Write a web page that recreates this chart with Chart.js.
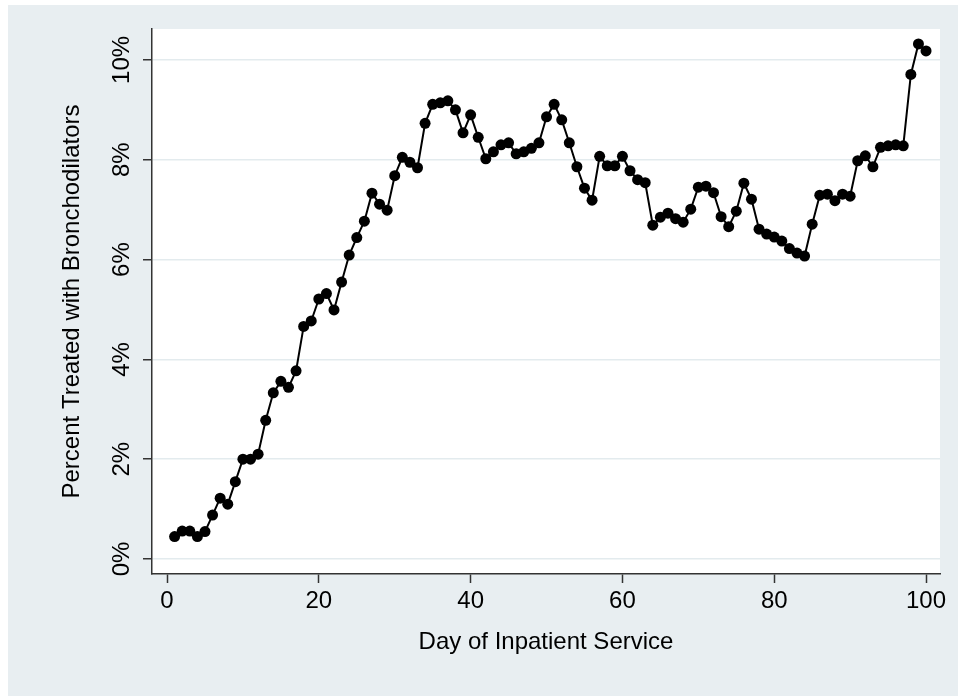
<!DOCTYPE html>
<html lang="en">
<head>
    <meta charset="UTF-8">
    <script src="https://cdn.jsdelivr.net/npm/chart.js"></script>
    <title>Bronchodilators by day</title>
    <style>
        body { margin: 0; background: #fff; }
        #wrap { width: 958px; height: 696px; }
    </style>
</head>
<body>
    <div id="wrap"><canvas id="myChart" width="958" height="696"></canvas></div>
    <script>
    // percent of patients treated with bronchodilators, day 1..100
    const days = [];
    for (let d = 1; d <= 100; d++) days.push(d);
    const pctTreated = [
        0.45, 0.56, 0.56, 0.45, 0.55, 0.88, 1.22, 1.10, 1.55, 2.00,
        2.00, 2.10, 2.78, 3.33, 3.56, 3.44, 3.77, 4.66, 4.77, 5.21,
        5.32, 4.99, 5.55, 6.09, 6.44, 6.77, 7.33, 7.11, 6.99, 7.68,
        8.05, 7.95, 7.84, 8.73, 9.11, 9.14, 9.18, 9.00, 8.54, 8.90,
        8.45, 8.02, 8.16, 8.30, 8.34, 8.12, 8.16, 8.23, 8.34, 8.86,
        9.11, 8.80, 8.34, 7.86, 7.43, 7.19, 8.07, 7.88, 7.88, 8.07,
        7.78, 7.60, 7.54, 6.69, 6.85, 6.93, 6.82, 6.75, 7.01, 7.45,
        7.47, 7.34, 6.86, 6.66, 6.97, 7.53, 7.21, 6.61, 6.51, 6.45,
        6.37, 6.22, 6.13, 6.07, 6.71, 7.29, 7.31, 7.18, 7.31, 7.27,
        7.98, 8.08, 7.86, 8.25, 8.28, 8.30, 8.28, 9.71, 10.32, 10.18
    ];
    const xTicks = [0, 20, 40, 60, 80, 100];
    const yTicks = [0, 2, 4, 6, 8, 10];
    const yTickLabels = ['0%', '2%', '4%', '6%', '8%', '10%'];
    const xTitle = 'Day of Inpatient Service';
    const yTitle = 'Percent Treated with Bronchodilators';

    const FONT = '"Liberation Sans", Arial, Helvetica, sans-serif';

    // gray frame + white plot region
    const backdrop = {
        id: 'backdrop',
        beforeDraw(chart) {
            const c = chart.ctx, a = chart.chartArea;
            c.save();
            c.fillStyle = '#ffffff';
            c.fillRect(0, 0, chart.width, chart.height);
            c.fillStyle = '#e8eef1';
            c.fillRect(8, 5, chart.width - 8, chart.height - 5);
            c.fillStyle = '#ffffff';
            c.fillRect(a.left, a.top, a.right - a.left, a.bottom - a.top);
            c.restore();
        }
    };

    // Stata style labels: rotated y tick labels and both axis titles
    const labels = {
        id: 'labels',
        afterDraw(chart) {
            const c = chart.ctx, a = chart.chartArea;
            const xs = chart.scales.x, ys = chart.scales.y;
            c.save();
            c.fillStyle = '#000';
            c.font = '24px ' + FONT;
            c.textAlign = 'center';
            c.textBaseline = 'middle';
            xTicks.forEach(v => {
                c.fillText(String(v), xs.getPixelForValue(v), 601);
            });
            yTicks.forEach((v, i) => {
                c.save();
                c.translate(122, ys.getPixelForValue(v));
                c.rotate(-Math.PI / 2);
                c.fillText(yTickLabels[i], 0, 0);
                c.restore();
            });
            c.fillText(xTitle, (a.left + a.right) / 2, 642);
            c.save();
            c.translate(72, (a.top + a.bottom) / 2);
            c.rotate(-Math.PI / 2);
            c.fillText(yTitle, 0, 0);
            c.restore();
            c.restore();
        }
    };

    const ctx = document.getElementById('myChart').getContext('2d');
    const myChart = new Chart(ctx, {
        type: 'line',
        data: {
            labels: days,
            datasets: [{
                data: days.map((d, i) => ({ x: d, y: pctTreated[i] })),
                borderColor: '#000',
                backgroundColor: '#000',
                borderWidth: 2,
                pointRadius: 5.5,
                pointHoverRadius: 5.5,
                pointBorderWidth: 0,
                tension: 0
            }]
        },
        plugins: [backdrop, labels],
        options: {
            responsive: false,
            animation: false,
            events: [],
            layout: { padding: { left: 0, right: 18, top: 29, bottom: 0 } },
            plugins: {
                legend: { display: false },
                tooltip: { enabled: false }
            },
            scales: {
                x: {
                    type: 'linear',
                    min: -1.98,
                    max: 101.84,
                    afterFit: s => { s.height = 122; },
                    afterBuildTicks: s => { s.ticks = xTicks.map(v => ({ value: v })); },
                    ticks: { display: false },
                    grid: {
                        drawOnChartArea: false,
                        drawTicks: true,
                        tickLength: 9,
                        tickColor: '#333',
                        tickWidth: 1.5
                    },
                    border: { display: true, color: '#333', width: 1.5 }
                },
                y: {
                    type: 'linear',
                    min: -0.30,
                    max: 10.62,
                    afterFit: s => { s.width = 152; },
                    afterBuildTicks: s => { s.ticks = yTicks.map(v => ({ value: v })); },
                    ticks: { display: false },
                    grid: {
                        color: '#e3ebee',
                        lineWidth: 1.5,
                        drawTicks: true,
                        tickLength: 9,
                        tickColor: '#333',
                        tickWidth: 1.5
                    },
                    border: { display: true, color: '#333', width: 1.5 }
                }
            }
        }
    });
    </script>
</body>
</html>
